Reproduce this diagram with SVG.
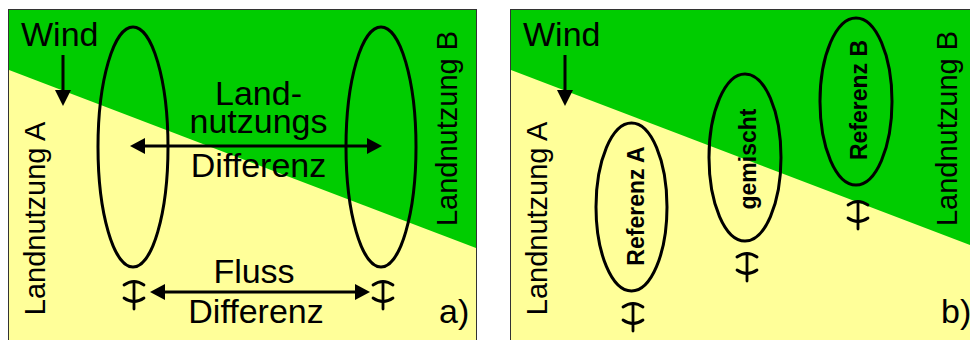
<svg xmlns="http://www.w3.org/2000/svg" xmlns:xlink="http://www.w3.org/1999/xlink" width="970" height="340" viewBox="0 0 970 340">
<style>
.yel{fill:#FFFF99;stroke:#333;stroke-width:1}
.grn{fill:#00CC00}
.t{font-family:"Liberation Sans",Arial,sans-serif;fill:#000}
.big{font-size:34px}
.side{font-size:29px}
.ref{font-size:23px;font-weight:bold}
.ell{fill:none;stroke:#000;stroke-width:3}
.ln{stroke:#000;stroke-width:3;fill:none}
.hd{fill:#000}
.fx{stroke:#000;stroke-width:2.8;fill:none;stroke-linecap:round}
</style>
<defs>
<g id="flux">
<path class="fx" d="M-10,4 Q0,-3 10,4"/>
<path class="fx" d="M0,1 V28"/>
<path class="fx" d="M-10,17 Q0,24 10,17"/>
</g>
</defs>
<rect width="970" height="340" fill="#fff"/>
<g id="panel-a">
<rect class="yel" x="8.5" y="9.5" width="468" height="340"/>
<polygon class="grn" points="9,10 476,10 476,248 9,70"/>
</g>
<g id="panel-b">
<rect class="yel" x="510.5" y="9.5" width="470" height="340"/>
<polygon class="grn" points="511,10 970,10 970,245 511,70"/>
</g>
<g id="labels-a">
<text class="t big" x="21" y="46">Wind</text>
<text class="t side" transform="translate(45,218.5) rotate(-90)" text-anchor="middle">Landnutzung A</text>
<text class="t side" transform="translate(457,128.5) rotate(-90)" text-anchor="middle">Landnutzung B</text>
<text class="t big" x="258.5" y="105" text-anchor="middle">Land-</text>
<text class="t big" x="258.5" y="133" text-anchor="middle">nutzungs</text>
<text class="t big" x="258.5" y="177" text-anchor="middle">Differenz</text>
<text class="t big" x="254" y="283" text-anchor="middle">Fluss</text>
<text class="t big" x="256" y="323" text-anchor="middle">Differenz</text>
<text class="t big" x="439" y="323">a)</text>
</g>
<g id="labels-b">
<text class="t big" x="523" y="46">Wind</text>
<text class="t side" transform="translate(547,218.5) rotate(-90)" text-anchor="middle">Landnutzung A</text>
<text class="t side" transform="translate(957,128.5) rotate(-90)" text-anchor="middle">Landnutzung B</text>
<text class="t big" x="941" y="323">b)</text>
</g>
<g id="ellipse-a1"><ellipse class="ell" cx="133" cy="147" rx="35" ry="120"/></g>
<g id="ellipse-a2"><ellipse class="ell" cx="381" cy="147" rx="35" ry="120"/></g>
<g id="referenz-a"><ellipse class="ell" cx="631.5" cy="207" rx="35.5" ry="84"/>
<text class="t ref" transform="translate(644,206) rotate(-90)" text-anchor="middle">Referenz A</text></g>
<g id="gemischt"><ellipse class="ell" cx="745" cy="157.5" rx="36" ry="83.5"/>
<text class="t ref" transform="translate(756,159) rotate(-90)" text-anchor="middle">gemischt</text></g>
<g id="referenz-b"><ellipse class="ell" cx="856" cy="101.5" rx="36" ry="83.5"/>
<text class="t ref" transform="translate(867,100) rotate(-90)" text-anchor="middle">Referenz B</text></g>
<g id="flux-symbols">
<use xlink:href="#flux" href="#flux" x="134" y="281"/>
<use xlink:href="#flux" href="#flux" x="383" y="281"/>
<use xlink:href="#flux" href="#flux" x="633" y="303"/>
<use xlink:href="#flux" href="#flux" x="747" y="253"/>
<use xlink:href="#flux" href="#flux" x="858" y="201"/>
</g>
<g id="connectors">
<line class="ln" x1="63" y1="55" x2="63" y2="92"/>
<polygon class="hd" points="55,90 71,90 63,106"/>
<line class="ln" x1="565" y1="55" x2="565" y2="92"/>
<polygon class="hd" points="557,90 573,90 565,106"/>
<line class="ln" x1="143" y1="146" x2="369" y2="146"/>
<polygon class="hd" points="130,146 145,138 145,154"/>
<polygon class="hd" points="382,146 367,138 367,154"/>
<line class="ln" x1="163" y1="292" x2="357" y2="292"/>
<polygon class="hd" points="150,292 165,284 165,300"/>
<polygon class="hd" points="370,292 355,284 355,300"/>
</g>
</svg>
